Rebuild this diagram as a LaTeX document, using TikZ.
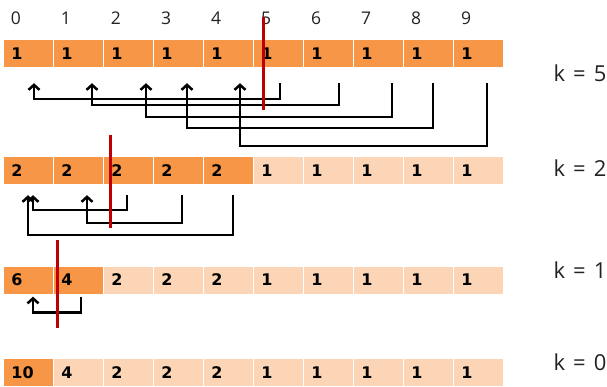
\documentclass[tikz,border=0pt]{standalone}
\usepackage{fontspec}
\setmainfont{Open Sans}
\newfontfamily\cellfont{DejaVu Sans}
\usetikzlibrary{arrows.meta,calc}
\definecolor{dk}{HTML}{F79646}
\definecolor{lt}{HTML}{FBD5B5}
\definecolor{rl}{HTML}{C00000}
\definecolor{tx}{HTML}{222222}
\newcommand{\kgap}{\hspace{8pt}}
\begin{document}
\begin{tikzpicture}[x=1pt,y=-1pt,
  cellbox/.style={minimum width=48.5pt, minimum height=27pt, inner sep=0pt,
    text width=34pt, align=left, anchor=west, text=black,
    font=\cellfont\bfseries\fontsize{16}{17}\selectfont},
  idx/.style={font=\fontsize{17.5}{18}\selectfont, text=tx, inner sep=0pt},
  klab/.style={font=\fontsize{22}{23}\selectfont, text=tx, inner sep=0pt},
  conn/.style={line width=2.5pt, -{Straight Barb[length=5pt,width=11pt]}},
  redline/.style={draw=rl, line width=3pt}]
\useasboundingbox (0,0) rectangle (607,387);
% index labels
\foreach \i in {0,...,9} \node[idx] (n\i) at (16+50*\i,18) {\i};
% row k=5
\foreach \v [count=\i from 0] in {1,1,1,1,1,1,1,1,1,1} {
  \node[cellbox, fill=dk] (a\i) at (4+50*\i,53.5) {\v};
}
% row k=2
\foreach \v [count=\i from 0] in {2,2,2,2,2,1,1,1,1,1} {
  \ifnum\i<5 \def\cc{dk}\else\def\cc{lt}\fi
  \node[cellbox, fill=\cc] (b\i) at (4+50*\i,170.5) {\v};
}
% row k=1
\foreach \v [count=\i from 0] in {6,4,2,2,2,1,1,1,1,1} {
  \ifnum\i<2 \def\cc{dk}\else\def\cc{lt}\fi
  \node[cellbox, fill=\cc] (c\i) at (4+50*\i,280) {\v};
}
% row k=0
\foreach \v [count=\i from 0] in {10,4,2,2,2,1,1,1,1,1} {
  \ifnum\i<1 \def\cc{dk}\else\def\cc{lt}\fi
  \node[cellbox, fill=\cc] (d\i) at (4+50*\i,372.5) {\v};
}
% k labels
\node[klab] (k5) at (580,73) {k\kgap=\kgap5};
\node[klab] (k2) at (580,168) {k\kgap=\kgap2};
\node[klab] (k1) at (580,270) {k\kgap=\kgap1};
\node[klab] (k0) at (580,362) {k\kgap=\kgap0};
% brackets row k=5
\draw[conn] ($(a5.south west)+(26,16)$) -- ++(0,16) -| ($(a0.south west)+(30,16)$);
\draw[conn] ($(a6.south west)+(35,16)$) -- ++(0,22) -| ($(a1.south west)+(38,16)$);
\draw[conn] ($(a7.south west)+(38,16)$) -- ++(0,34) -| ($(a2.south west)+(42,16)$);
\draw[conn] ($(a8.south west)+(29,16)$) -- ++(0,45) -| ($(a3.south west)+(33,16)$);
\draw[conn] ($(a9.south west)+(33,16)$) -- ++(0,63) -| ($(a4.south west)+(36,16)$);
% brackets row k=2
\draw[conn] ($(b2.south west)+(23,11)$) -- ++(0,15) -| ($(b0.south west)+(29,11)$);
\draw[conn] ($(b3.south west)+(28,11)$) -- ++(0,28) -| ($(b1.south west)+(33,11)$);
\draw[conn] ($(b4.south west)+(29,11)$) -- ++(0,40) -| ($(b0.south west)+(24,11)$);
% bracket row k=1
\draw[conn] ($(c1.south west)+(27,3)$) -- ++(0,16) -| ($(c0.south west)+(29,3)$);
% red dividers
\coordinate (r1t) at (263,17); \coordinate (r1b) at (263,110);
\coordinate (r2t) at (110,135); \coordinate (r2b) at (110,228);
\coordinate (r3t) at (57,240); \coordinate (r3b) at (57,328);
\draw[redline] (r1t) -- (r1b);
\draw[redline] (r2t) -- (r2b);
\draw[redline] (r3t) -- (r3b);
\end{tikzpicture}
\end{document}
